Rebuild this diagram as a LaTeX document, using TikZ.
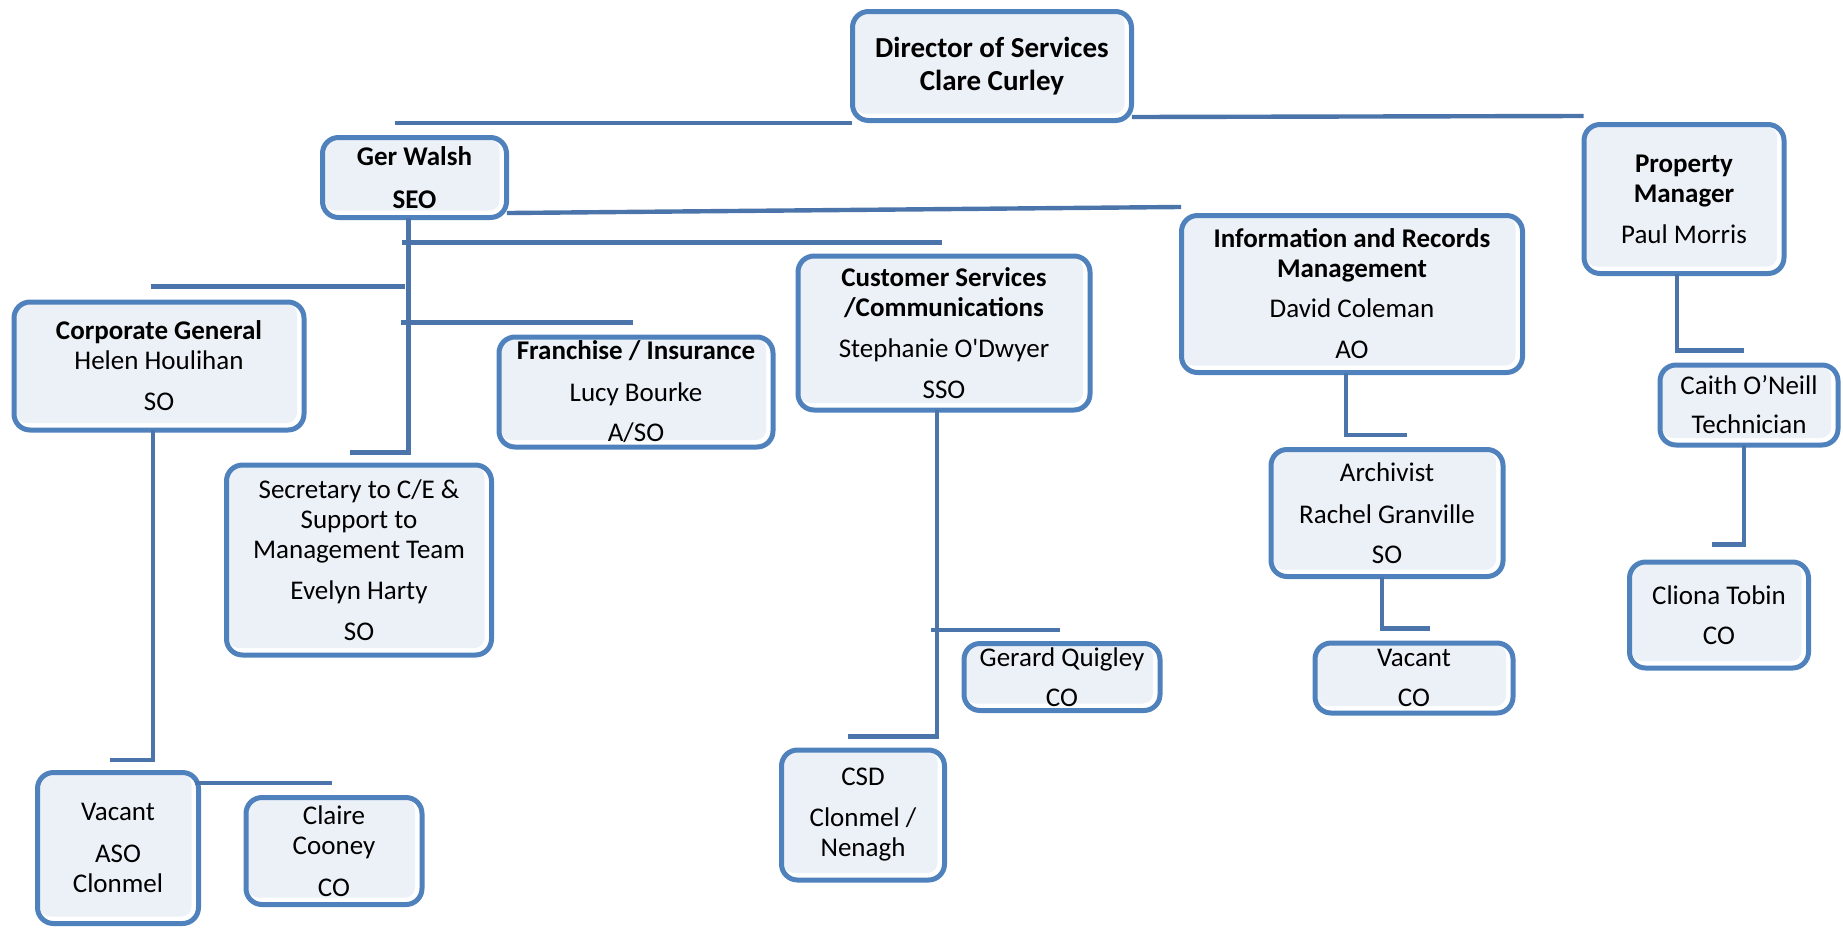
\documentclass[tikz,border=0pt]{standalone}
\usepackage{fontspec}
\setmainfont{Carlito}
\definecolor{boxblue}{HTML}{4F81BD}
\definecolor{linkblue}{HTML}{4A74AA}
\definecolor{boxfill}{HTML}{ECF1F8}
\tikzset{
  unit/.style={draw=boxblue, line width=2.5pt, rounded corners=8pt, fill=white,
    align=center, inner sep=0pt, font=\fontsize{13.5}{15}\selectfont,
    path picture={\fill[boxfill, rounded corners=5pt]
      ([shift={(1pt,-1pt)}]path picture bounding box.north west) rectangle
      ([shift={(-3.5pt,3.5pt)}]path picture bounding box.south east);}},
  link/.style={draw=linkblue, line width=2.2pt, line cap=rect},
}
\begin{document}
\begin{tikzpicture}[x=0.5pt,y=-0.5pt]
  \useasboundingbox (0,0) rectangle (1843,928);
  % top level
  \node[unit, minimum width=139.5pt, minimum height=54.5pt, font=\fontsize{14.5}{16.5}\selectfont] (dir) at (992,66) {\textbf{Director of Services}\\\textbf{Clare Curley}};
  \node[unit, minimum width=92pt, minimum height=40pt] (gw) at (414.5,177.5) {\textbf{Ger Walsh}\\[6.5pt]\textbf{SEO}};
  \node[unit, minimum width=100pt, minimum height=74.5pt] (pm) at (1684,199) {\textbf{Property}\\\textbf{Manager}\\[5.5pt]Paul Morris};
  % sections
  \node[unit, minimum width=145pt, minimum height=64pt] (cg) at (159,366) {\textbf{Corporate General}\\Helen Houlihan\\[5.5pt]SO};
  \node[unit, minimum width=137pt, minimum height=55pt] (fr) at (636,392) {\textbf{Franchise / Insurance}\\[6pt]Lucy Bourke\\[5pt]A/SO};
  \node[unit, minimum width=146pt, minimum height=77pt] (cs) at (944,333) {\textbf{Customer Services}\\\textbf{/Communications}\\[5.5pt]Stephanie O\textquotesingle Dwyer\\[5.5pt]SSO};
  \node[unit, minimum width=170.5pt, minimum height=78.5pt] (info) at (1352,294) {\textbf{Information and Records}\\\textbf{Management}\\[5pt]David Coleman\\[5.5pt]AO};
  \node[unit, minimum width=132.5pt, minimum height=95pt] (sec) at (359,560) {Secretary to C/E \&\\Support to\\Management Team\\[5.5pt]Evelyn Harty\\[5.5pt]SO};
  \node[unit, minimum width=116pt, minimum height=63.5pt] (arch) at (1387,513) {Archivist\\[6pt]Rachel Granville\\[5pt]SO};
  \node[unit, minimum width=89pt, minimum height=40pt] (caith) at (1749,405) {Caith O’Neill\\[4.5pt]Technician};
  % staff
  \node[unit, minimum width=98pt, minimum height=33.5pt] (gq) at (1062,677) {Gerard Quigley\\[5pt]CO};
  \node[unit, minimum width=99pt, minimum height=35pt] (vco) at (1414,678) {Vacant\\[5pt]CO};
  \node[unit, minimum width=89.5pt, minimum height=53pt] (ct) at (1719,615) {Cliona Tobin\\[5pt]CO};
  \node[unit, minimum width=81.5pt, minimum height=65pt] (csd) at (863,815) {CSD\\[5.5pt]Clonmel /\\Nenagh};
  \node[unit, minimum width=80.5pt, minimum height=75.5pt] (vas) at (118,848) {Vacant\\[6pt]ASO\\Clonmel};
  \node[unit, minimum width=88pt, minimum height=53.5pt] (cc) at (334,851) {Claire\\Cooney\\[6pt]CO};
  % connectors
  \coordinate (dl) at (397,125);
  \draw[link] (dir.south west) -- (dir.south west -| dl);
  \draw[link] ([yshift=3pt]dir.south east) -- ([yshift=3pt]pm.north west);
  \draw[link] ([yshift=3.5pt]gw.south east) -- ([yshift=3pt]info.north west);
  \coordinate (gwt) at ([xshift=-3pt]gw.south);
  \draw[link] (gwt) |- ([xshift=-3.5pt,yshift=5pt]sec.north);
  \draw[link] ([xshift=-3pt,yshift=6.5pt]cg.north) -- ([xshift=-3pt,yshift=6.5pt]cg.north -| gwt);
  \draw[link] ([xshift=-2.5pt,yshift=6pt]fr.north) -- ([xshift=-2.5pt,yshift=6pt]fr.north -| gwt);
  \draw[link] ([xshift=-2pt,yshift=5.5pt]cs.north) -- ([xshift=-2pt,yshift=5.5pt]cs.north -| gwt);
  \draw[link] ([xshift=-3pt]cg.south) |- ([xshift=-3pt,yshift=5pt]vas.north);
  \draw[link] ([xshift=-2pt,yshift=6pt]cc.north) -- ([xshift=-2pt,yshift=6pt]cc.north -| vas.east);
  \coordinate (cst) at ([xshift=-3.5pt]cs.south);
  \draw[link] (cst) |- ([xshift=-6.5pt,yshift=5.5pt]csd.north);
  \draw[link] ([xshift=-2pt,yshift=5.5pt]gq.north) -- ([xshift=-2pt,yshift=5.5pt]gq.north -| cst);
  \draw[link] ([xshift=-3pt]info.south) |- ([xshift=9pt,yshift=6pt]arch.north);
  \draw[link] ([xshift=-2.5pt]arch.south) |- ([xshift=7pt,yshift=6pt]vco.north);
  \draw[link] ([xshift=-3.5pt]pm.south) |- ([xshift=-3.5pt,yshift=6pt]caith.north);
  \draw[link] ([xshift=-2.5pt]caith.south) |- ([xshift=-2.5pt,yshift=7.5pt]ct.north);
\end{tikzpicture}
\end{document}
